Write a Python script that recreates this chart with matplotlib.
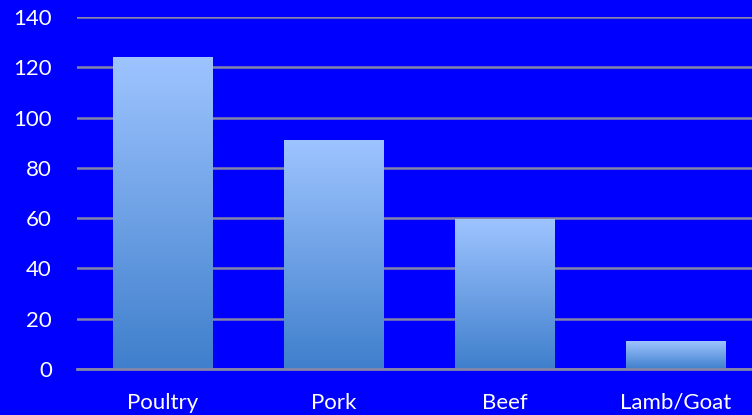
import matplotlib
matplotlib.use("Agg")
import matplotlib.pyplot as plt
import numpy as np
from matplotlib.colors import LinearSegmentedColormap

categories = ["Poultry", "Pork", "Beef", "Lamb/Goat"]
values = [124, 91, 59.5, 11]
yticks = [0, 20, 40, 60, 80, 100, 120, 140]

BG = "#0000FF"
GRID = "#8585A8"
grad = LinearSegmentedColormap.from_list("bar", ["#3F7FCC", "#9EC4FF"])

fig = plt.figure(figsize=(7.52, 4.15), dpi=100)
fig.patch.set_facecolor(BG)
ax = fig.add_axes([77 / 752, 1 - 369 / 415, 684 / 752, 352 / 415])
ax.set_facecolor(BG)

x = np.arange(len(categories))
bars = ax.bar(x, values, width=0.58, color="none", zorder=3)
gradient = np.linspace(0, 1, 256).reshape(-1, 1)
for b in bars:
    x0, y0 = b.get_x(), b.get_y()
    w, h = b.get_width(), b.get_height()
    im = ax.imshow(gradient, cmap=grad, origin="lower", aspect="auto",
                   extent=[x0, x0 + w, y0, y0 + h], zorder=3)
    im.set_clip_path(b)

ax.set_xlim(-0.5, len(categories) - 0.5)
ax.set_ylim(0, 140)
ax.set_yticks(yticks)
ax.set_xticks(x)
ax.set_xticklabels(categories)
ax.yaxis.grid(True, color=GRID, linewidth=1.8, zorder=1)
ax.set_axisbelow(True)
for s in ["top", "right", "left"]:
    ax.spines[s].set_visible(False)
ax.spines["bottom"].set_color(GRID)
ax.spines["bottom"].set_linewidth(2)
ax.spines["bottom"].set_zorder(4)
ax.tick_params(length=0, colors="white", labelsize=16)
ax.tick_params(axis="y", pad=18)
ax.tick_params(axis="x", pad=17)
for lab in ax.get_xticklabels() + ax.get_yticklabels():
    lab.set_fontfamily("Lato")

plt.savefig("out.png", dpi=100, facecolor=BG)
plt.close()
